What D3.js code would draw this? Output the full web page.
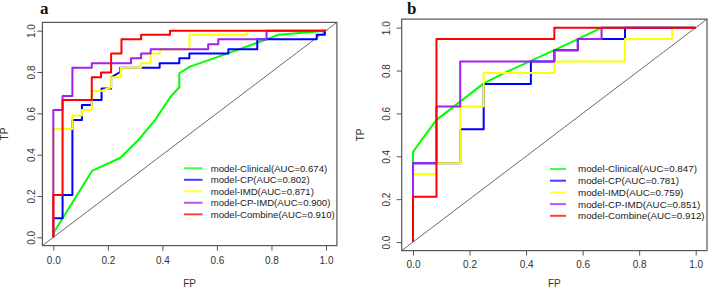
<!DOCTYPE html>
<html>
<head>
<meta charset="utf-8">
<script src="https://cdn.jsdelivr.net/npm/d3@7"></script>
<style>
  body { margin: 0; background: #fff; }
  svg { display: block; }
</style>
</head>
<body>
<div id="chart"></div>
<script>
// Axis ticks (shared by both panels)
const tickValues = [0, 0.2, 0.4, 0.6, 0.8, 1.0];
const tickLabels = ['0.0', '0.2', '0.4', '0.6', '0.8', '1.0'];

// Model names + colours (drawing order: last one on top)
const modelNames = ['model-Clinical', 'model-CP', 'model-IMD', 'model-CP-IMD', 'model-Combine'];
const modelColors = ['#00ff00', '#0000ff', '#ffff00', '#a020f0', '#ff0000'];

// Panel a: AUC values and ROC points [FP, TP]
const aucA = ['0.674', '0.802', '0.871', '0.900', '0.910'];
const aClinical = [[0, 0], [0, 0.02], [0.143, 0.323], [0.245, 0.384], [0.312, 0.471], [0.373, 0.567],
    [0.43, 0.68], [0.462, 0.726], [0.462, 0.794], [0.501, 0.826], [0.64, 0.89], [0.782, 0.958],
    [0.825, 0.98], [1, 1]];
const aCP = [[0, 0], [0, 0.092], [0.034, 0.092], [0.034, 0.205], [0.07, 0.205], [0.07, 0.568],
    [0.105, 0.568], [0.105, 0.64], [0.141, 0.64], [0.141, 0.664], [0.177, 0.664], [0.177, 0.72],
    [0.212, 0.72], [0.212, 0.774], [0.245, 0.8], [0.245, 0.821], [0.39, 0.821], [0.39, 0.842],
    [0.462, 0.842], [0.462, 0.866], [0.499, 0.866], [0.499, 0.89], [0.642, 0.89], [0.642, 0.91],
    [0.748, 0.91], [0.748, 0.958], [0.966, 0.958], [0.966, 0.98], [0.996, 0.98], [0.996, 1], [1, 1]];
const aIMD = [[0, 0], [0, 0.524], [0.07, 0.524], [0.07, 0.59], [0.105, 0.59], [0.105, 0.616],
    [0.141, 0.616], [0.141, 0.708], [0.177, 0.708], [0.212, 0.726], [0.212, 0.774], [0.247, 0.774],
    [0.247, 0.821], [0.322, 0.821], [0.322, 0.842], [0.357, 0.842], [0.357, 0.89], [0.391, 0.89],
    [0.391, 0.91], [0.499, 0.91], [0.499, 0.98], [0.711, 0.98], [0.711, 1], [1, 1]];
const aCPIMD = [[0, 0], [0, 0.616], [0.034, 0.616], [0.034, 0.684], [0.07, 0.684], [0.07, 0.821],
    [0.141, 0.821], [0.141, 0.842], [0.285, 0.842], [0.285, 0.866], [0.322, 0.866], [0.322, 0.89],
    [0.357, 0.89], [0.357, 0.91], [0.568, 0.91], [0.568, 0.934], [0.605, 0.934], [0.605, 0.958],
    [0.782, 0.958], [0.782, 1], [1, 1]];
const aCombine = [[0, 0], [0, 0.205], [0.034, 0.205], [0.034, 0.665], [0.141, 0.665], [0.141, 0.774],
    [0.175, 0.774], [0.175, 0.798], [0.212, 0.798], [0.212, 0.89], [0.25, 0.89], [0.25, 0.958],
    [0.322, 0.958], [0.322, 0.98], [0.428, 0.98], [0.428, 1], [1, 1]];

// Panel b: AUC values and ROC points [FP, TP]
const aucB = ['0.847', '0.781', '0.759', '0.851', '0.912'];
const bClinical = [[0, 0], [0, 0.421], [0.03, 0.475], [0.083, 0.57], [0.167, 0.655], [0.25, 0.74],
    [0.333, 0.795], [0.417, 0.845], [0.5, 0.895], [0.583, 0.947], [0.667, 1], [1, 1]];
const bCP = [[0, 0], [0, 0.368], [0.167, 0.368], [0.167, 0.526], [0.25, 0.526], [0.25, 0.737],
    [0.417, 0.737], [0.417, 0.842], [0.5, 0.842], [0.5, 0.895], [0.583, 0.895], [0.583, 0.947],
    [0.75, 0.947], [0.75, 1], [1, 1]];
const bIMD = [[0, 0], [0, 0.316], [0.083, 0.316], [0.083, 0.368], [0.167, 0.368], [0.167, 0.632],
    [0.25, 0.632], [0.25, 0.789], [0.5, 0.789], [0.5, 0.842], [0.75, 0.842], [0.75, 0.947],
    [0.917, 0.947], [0.917, 1], [1, 1]];
const bCPIMD = [[0, 0], [0, 0.368], [0.083, 0.368], [0.083, 0.632], [0.167, 0.632], [0.167, 0.842],
    [0.5, 0.842], [0.5, 0.895], [0.583, 0.895], [0.583, 0.947], [0.667, 0.947], [0.667, 1], [1, 1]];
const bCombine = [[0, 0], [0, 0.211], [0.083, 0.211], [0.083, 0.947], [0.5, 0.947], [0.5, 1], [1, 1]];

// Layout of the two panels (pixels)
const panels = [
    {
        letter: 'a', titleX: 40, left: 42.4, right: 336.9, top: 22.4, bottom: 245.6,
        xLabelY: 264.5, yLabelX: 35, fpY: 286.5, tpX: 7.5,
        legLine: [184, 202.5], legTextX: 210.7, legY: 168.3, legStep: 11.5, legFont: 9.6,
        series: [aClinical, aCP, aIMD, aCPIMD, aCombine], auc: aucA
    },
    {
        letter: 'b', titleX: 407, left: 401.7, right: 707, top: 19.1, bottom: 250.6,
        xLabelY: 268.5, yLabelX: 390, fpY: 286.5, tpX: 363.5,
        legLine: [550, 566], legTextX: 578, legY: 169, legStep: 11.7, legFont: 9.8,
        series: [bClinical, bCP, bIMD, bCPIMD, bCombine], auc: aucB
    }
];

const font = "'Liberation Sans', Arial, sans-serif";

// Create the SVG container
const svg = d3.select('#chart')
    .append('svg')
    .attr('width', 708)
    .attr('height', 288);

const drawPanel = (p) => {
    const g = svg.append('g');

    // R-style scales: 4% padding around [0, 1]
    const x = d3.scaleLinear().domain([-0.04, 1.04]).range([p.left, p.right]);
    const y = d3.scaleLinear().domain([-0.04, 1.04]).range([p.bottom, p.top]);

    // X axis
    const xAxis = g.append('g')
        .attr('transform', `translate(0, ${p.bottom})`)
        .call(d3.axisBottom(x).tickValues(tickValues).tickFormat((d, i) => tickLabels[i]).tickSize(5));
    xAxis.select('.domain').remove();
    xAxis.selectAll('line').attr('stroke', '#555');
    xAxis.selectAll('text')
        .attr('y', p.xLabelY - p.bottom)
        .attr('dy', null)
        .attr('fill', '#333')
        .style('font-family', font)
        .style('font-size', '10px');

    // Y axis (labels rotated like R's las=0)
    const yAxis = g.append('g')
        .attr('transform', `translate(${p.left}, 0)`)
        .call(d3.axisLeft(y).tickValues(tickValues).tickFormat((d, i) => tickLabels[i]).tickSize(5));
    yAxis.select('.domain').remove();
    yAxis.selectAll('line').attr('stroke', '#555');
    yAxis.selectAll('text')
        .attr('x', 0)
        .attr('dy', null)
        .attr('text-anchor', 'middle')
        .attr('transform', `translate(${p.yLabelX - p.left}, 0) rotate(-90)`)
        .attr('fill', '#333')
        .style('font-family', font)
        .style('font-size', '10px');

    // Diagonal reference line
    g.append('line')
        .attr('x1', x(-0.04)).attr('y1', y(-0.04))
        .attr('x2', x(1.04)).attr('y2', y(1.04))
        .attr('stroke', '#444')
        .attr('stroke-width', 0.8);

    // ROC curves
    const line = d3.line()
        .x(d => x(d[0]))
        .y(d => y(d[1]));
    p.series.forEach((s, i) => {
        g.append('path')
            .datum(s)
            .attr('d', line)
            .attr('fill', 'none')
            .attr('stroke', modelColors[i])
            .attr('stroke-width', 2)
            .attr('stroke-linejoin', 'round');
    });

    // Plot box
    g.append('rect')
        .attr('x', p.left).attr('y', p.top)
        .attr('width', p.right - p.left).attr('height', p.bottom - p.top)
        .attr('fill', 'none')
        .attr('stroke', '#555')
        .attr('stroke-width', 1.2);

    // Legend
    const leg = g.selectAll('.legend')
        .data(modelNames)
        .enter().append('g')
        .attr('class', 'legend')
        .attr('transform', (d, i) => `translate(0, ${p.legY + i * p.legStep})`);
    leg.append('line')
        .attr('x1', p.legLine[0]).attr('x2', p.legLine[1])
        .attr('stroke', (d, i) => modelColors[i])
        .attr('stroke-opacity', 0.75)
        .attr('stroke-width', 2);
    leg.append('text')
        .attr('x', p.legTextX)
        .attr('dy', '0.35em')
        .attr('fill', '#222')
        .style('font-family', font)
        .style('font-size', p.legFont + 'px')
        .text((d, i) => `${d}(AUC=${p.auc[i]})`);

    // Axis titles
    g.append('text')
        .attr('x', (p.left + p.right) / 2)
        .attr('y', p.fpY)
        .attr('text-anchor', 'middle')
        .attr('fill', '#333')
        .style('font-family', font)
        .style('font-size', '10px')
        .text('FP');
    g.append('text')
        .attr('transform', `translate(${p.tpX}, ${(p.top + p.bottom) / 2}) rotate(-90)`)
        .attr('text-anchor', 'middle')
        .attr('fill', '#333')
        .style('font-family', font)
        .style('font-size', '10px')
        .text('TP');

    // Panel letter
    g.append('text')
        .attr('x', p.titleX)
        .attr('y', 13.5)
        .attr('fill', '#111')
        .style('font-family', "'Liberation Serif', 'Times New Roman', serif")
        .style('font-size', '17px')
        .style('font-weight', 'bold')
        .text(p.letter);
};

panels.forEach(drawPanel);
</script>
</body>
</html>
